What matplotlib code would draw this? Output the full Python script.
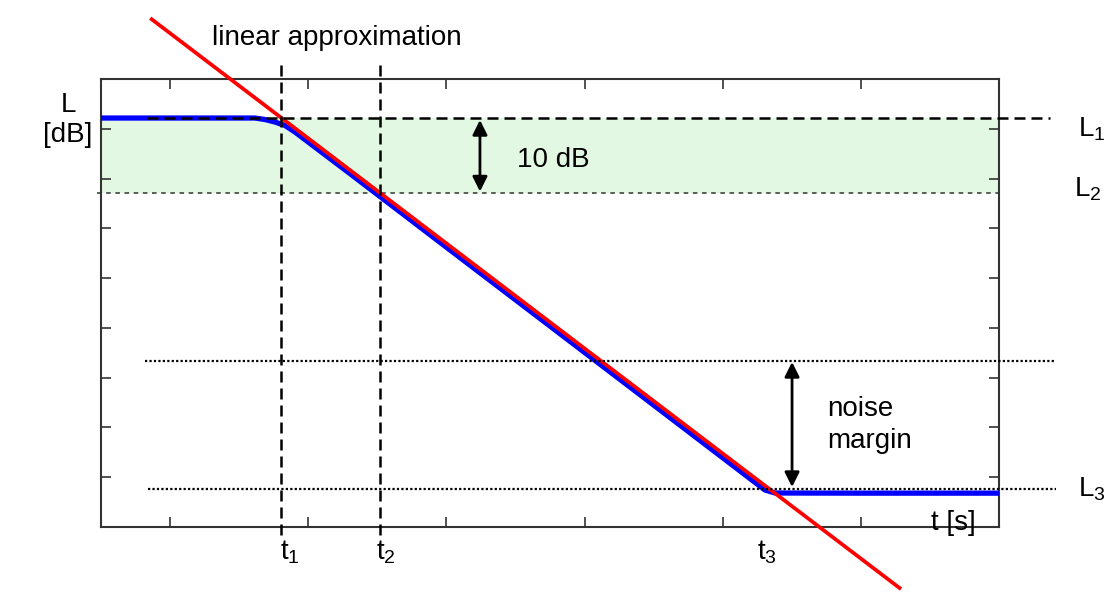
import matplotlib
matplotlib.use("Agg")
import matplotlib.pyplot as plt
import numpy as np

plt.rcParams['font.family'] = ['Liberation Sans', 'DejaVu Sans']
plt.rcParams['mathtext.fontset'] = 'custom'
plt.rcParams['mathtext.rm'] = 'Liberation Sans'
plt.rcParams['mathtext.it'] = 'Liberation Sans'

# ---- data (arbitrary units: time on x, level on y) ----
decay_t = [-0.50, 0.20, 0.615, 0.687, 0.759, 0.832, 0.904, 1.302, 2.026, 2.75,
           3.474, 4.125, 4.234, 4.306, 4.379, 5.0, 6.0]
decay_L = [8.216, 8.216, 8.216, 8.186, 8.136, 8.066, 7.935, 7.10, 5.566, 4.036,
           2.505, 1.127, 0.896, 0.743, 0.683, 0.68, 0.68]

fit_t = [-0.133, 5.28]
fit_L = [10.20, -1.225]

t_marks = {'t1': 0.803, 't2': 1.516, 't3': 4.328}
L1, L2, L3 = 8.216, 6.71, 0.763
noise_top = 3.335

fig = plt.figure(figsize=(11.04, 5.92), dpi=100)
ax = fig.add_axes([101/1104, 1-527/592, 898/1104, 448/592])
ax.set_xlim(-0.5, 6.0)
ax.set_ylim(0, 9)

# green 10 dB band
ax.axhspan(L2, L1, color='#e2f8e2', zorder=0, lw=0)
ax.plot([-0.53, 6.0], [L2, L2], color='#333333', lw=1.1, ls=(0, (3, 3)),
        clip_on=False, zorder=2)

# decay curve and linear fit
ax.plot(decay_t, decay_L, color='#0000ff', lw=3.8, zorder=3, solid_capstyle='butt',
        solid_joinstyle='round')
ax.plot(fit_t, fit_L, color='#ff0000', lw=2.7, zorder=4, clip_on=False)

dash = (0, (4.4, 2.4))
ax.plot([-0.167, 6.37], [L1, L1], color='black', lw=1.8, ls=dash, clip_on=False, zorder=5)
for key in ('t1', 't2'):
    ax.plot([t_marks[key]] * 2, [9.28, -0.16], color='black', lw=1.8, ls=dash,
            clip_on=False, zorder=5)

dot = (0, (1, 1))
ax.plot([-0.18, 6.41], [noise_top, noise_top], color='black', lw=1.6, ls=dot,
        clip_on=False, zorder=5)
ax.plot([-0.16, 6.41], [L3, L3], color='black', lw=1.6, ls=dot,
        clip_on=False, zorder=5)

# arrows
ap = dict(arrowstyle='<|-|>', color='black', lw=2, mutation_scale=22,
          shrinkA=0, shrinkB=0)
ax.annotate('', xy=(2.243, L1 - 0.04), xytext=(2.243, L2 + 0.03), arrowprops=ap, zorder=6)
ax.annotate('', xy=(4.502, noise_top - 0.02), xytext=(4.502, L3 + 0.04), arrowprops=ap, zorder=6)

fs = 20
ax.text(0.303, 9.68, 'linear approximation', fontsize=fs, va='baseline', ha='left')
ax.text(2.511, 7.24, '10 dB', fontsize=fs, va='baseline', ha='left')
ax.text(4.76, 2.23, 'noise', fontsize=fs, va='baseline', ha='left')
ax.text(4.76, 1.587, 'margin', fontsize=fs, va='baseline', ha='left')
ax.text(6.57, 7.84, r'L$_1$', fontsize=fs, va='baseline', ha='left')
ax.text(6.54, 6.635, r'L$_2$', fontsize=fs, va='baseline', ha='left')
ax.text(6.57, 0.61, r'L$_3$', fontsize=fs, va='baseline', ha='left')
ax.text(-0.739, 8.34, 'L', fontsize=fs, va='baseline', ha='center')
ax.text(-0.739, 7.73, '[dB]', fontsize=fs, va='baseline', ha='center')
ax.text(0.796, -0.66, r't$_1$', fontsize=fs, va='baseline', ha='left')
ax.text(1.49, -0.66, r't$_2$', fontsize=fs, va='baseline', ha='left')
ax.text(4.25, -0.66, r't$_3$', fontsize=fs, va='baseline', ha='left')
ax.text(5.83, -0.06, 't [s]', fontsize=fs, va='baseline', ha='right')

ax.set_xticks(np.arange(0, 7))
ax.set_yticks(np.arange(0, 10))
ax.tick_params(direction='in', length=7, width=1.2, top=True, right=True,
               labelbottom=False, labelleft=False, color='#333333')
for s in ax.spines.values():
    s.set_linewidth(1.5)
    s.set_color('#333333')

fig.savefig('out.png', dpi=100)
